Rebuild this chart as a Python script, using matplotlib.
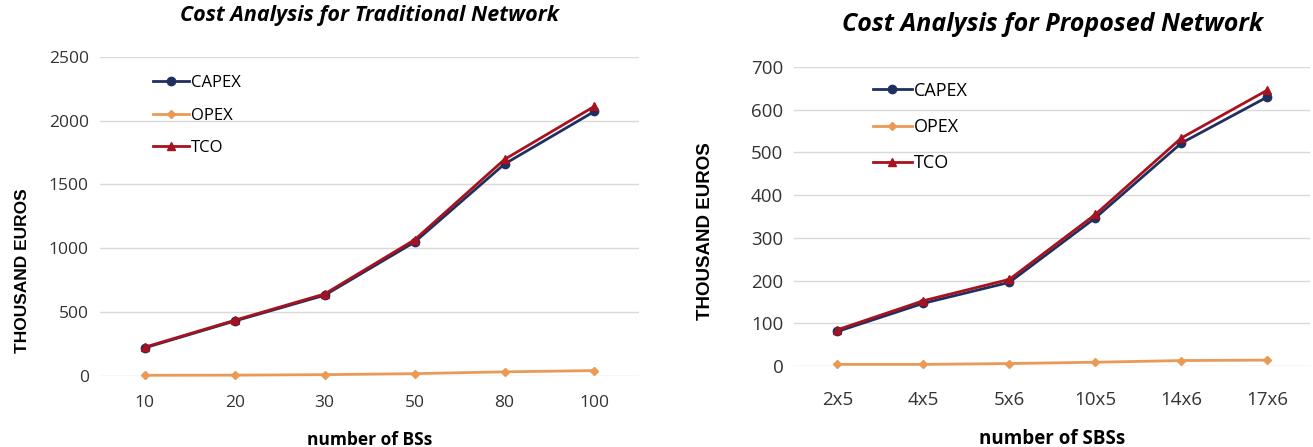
import matplotlib.pyplot as plt

# left chart: traditional network
bs_labels = ['10', '20', '30', '50', '80', '100']
trad_capex = [220, 430, 632, 1048, 1660, 2072]
trad_opex = [5, 6, 10, 18, 32, 42]
trad_tco = [225, 436, 642, 1066, 1696, 2112]

# right chart: proposed network
sbs_labels = ['2x5', '4x5', '5x6', '10x5', '14x6', '17x6']
prop_capex = [81, 147, 196, 347, 522, 630]
prop_opex = [4, 4, 6, 9, 13, 14]
prop_tco = [85, 153, 203, 355, 534, 646]

c_capex = '#1f2f5f'
c_opex = '#eb9a55'
c_tco = '#a8121e'

plt.rcParams['font.family'] = ['Open Sans', 'DejaVu Sans']

fig = plt.figure(figsize=(13.13, 4.47), dpi=100)


def draw(ax, labels, capex, opex, tco, ymax, step, title, xlabel, legpos, fs, tfs, lspace, xpad):
  x = range(len(labels))
  ax.plot(x, capex, color=c_capex, lw=2, marker='o', ms=6, label='CAPEX', clip_on=False, zorder=3)
  ax.plot(x, opex, color=c_opex, lw=2, marker='D', ms=4, label='OPEX', clip_on=False, zorder=3)
  ax.plot(x, tco, color=c_tco, lw=2, marker='^', ms=6, label='TCO', clip_on=False, zorder=4)
  ax.set_xlim(-0.5, len(labels) - 0.5)
  ax.set_ylim(0, ymax)
  ax.set_yticks(range(0, ymax + 1, step))
  ax.set_xticks(list(x))
  ax.set_xticklabels(labels)
  ax.grid(axis='y', color='#d9d9d9', lw=1)
  ax.set_axisbelow(True)
  for s in ax.spines.values():
    s.set_visible(False)
  ax.tick_params(length=0, labelsize=fs, colors='#333333', pad=8)
  ax.tick_params(axis='x', pad=xpad)
  ax.set_xlabel(xlabel, fontsize=fs, fontweight='bold', labelpad=14)
  ax.set_ylabel('THOUSAND EUROS', fontsize=fs, fontweight='bold', family='Liberation Sans')
  ax.set_title(title, fontsize=tfs, fontweight='bold', style='italic', pad=26)
  ax.legend(loc='upper left', bbox_to_anchor=legpos, frameon=False, fontsize=fs - 0.5,
            handlelength=2.2, handletextpad=0.1, labelspacing=lspace)


ax1 = fig.add_axes([0.076, 0.159, 0.411, 0.714])
draw(ax1, bs_labels, trad_capex, trad_opex, trad_tco, 2500, 500,
     'Cost Analysis for Traditional Network', 'number of BSs', (0.07, 0.99), 12.5, 15.5, 1.0, 14)
ax1.yaxis.set_label_coords(-0.13, 0.33)

ax2 = fig.add_axes([0.605, 0.181, 0.393, 0.669])
draw(ax2, sbs_labels, prop_capex, prop_opex, prop_tco, 700, 100,
     'Cost Analysis for Proposed Network', 'number of SBSs', (0.12, 1.005), 13.5, 18, 1.0, 18)
ax2.yaxis.set_label_coords(-0.155, 0.45)

fig.savefig('out.png', dpi=100)
